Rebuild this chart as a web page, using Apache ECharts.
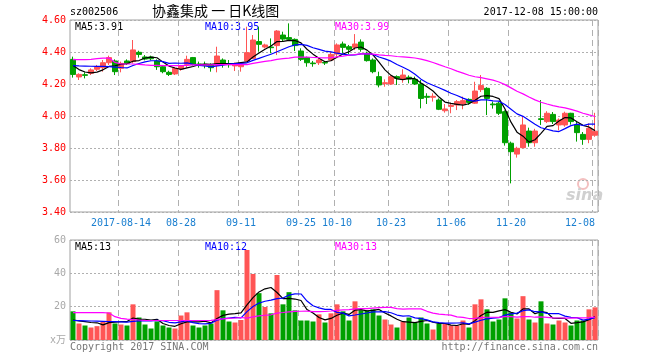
<!DOCTYPE html>
<html><head><meta charset="utf-8">
<script src="https://cdn.jsdelivr.net/npm/echarts@6/dist/echarts.min.js"></script>
<style>html,body{margin:0;padding:0;background:#fff}#c{width:660px;height:360px}</style>
</head><body><div id="c"></div>
<script>
const dates = [
'2017-08-02','2017-08-03','2017-08-04','2017-08-07','2017-08-08','2017-08-09','2017-08-10','2017-08-11',
'2017-08-14','2017-08-15','2017-08-16','2017-08-17','2017-08-18','2017-08-21','2017-08-22','2017-08-23','2017-08-24','2017-08-25',
'2017-08-28','2017-08-29','2017-08-30','2017-08-31','2017-09-01','2017-09-04','2017-09-05','2017-09-06','2017-09-07','2017-09-08',
'2017-09-11','2017-09-12','2017-09-13','2017-09-14','2017-09-15','2017-09-18','2017-09-19','2017-09-20','2017-09-21','2017-09-22',
'2017-09-25','2017-09-26','2017-09-27','2017-09-28','2017-09-29','2017-10-09',
'2017-10-10','2017-10-11','2017-10-12','2017-10-13','2017-10-16','2017-10-17','2017-10-18','2017-10-19','2017-10-20',
'2017-10-23','2017-10-24','2017-10-25','2017-10-26','2017-10-27','2017-10-30','2017-10-31','2017-11-01','2017-11-02','2017-11-03',
'2017-11-06','2017-11-07','2017-11-08','2017-11-09','2017-11-10','2017-11-13','2017-11-14','2017-11-15','2017-11-16','2017-11-17',
'2017-11-20','2017-11-21','2017-11-22','2017-11-23','2017-11-24','2017-11-27','2017-11-28','2017-11-29','2017-11-30','2017-12-01',
'2017-12-04','2017-12-05','2017-12-06','2017-12-07','2017-12-08'];
const labelDates = ['2017-08-14','2017-08-28','2017-09-11','2017-09-25','2017-10-10','2017-10-23','2017-11-06','2017-11-20','2017-12-08'];

const open = [4.354,4.244,4.258,4.267,4.292,4.302,4.333,4.344,4.298,4.344,
4.340,4.398,4.369,4.369,4.344,4.308,4.273,4.263,4.294,4.323,
4.365,4.325,4.323,4.319,4.315,4.350,4.325,4.313,4.308,4.344,
4.360,4.465,4.431,4.431,4.440,4.506,4.490,4.479,4.406,4.365,
4.331,4.333,4.335,4.350,4.387,4.450,4.433,4.429,4.462,4.392,
4.350,4.246,4.202,4.200,4.246,4.229,4.242,4.229,4.200,4.123,
4.117,4.100,4.033,4.060,4.069,4.075,4.104,4.080,4.165,4.173,
4.075,4.080,4.027,3.830,3.762,3.802,3.906,3.833,3.983,3.965,
4.010,3.944,3.944,4.017,3.944,3.885,3.854,3.880];
const close = [4.260,4.260,4.254,4.288,4.308,4.333,4.365,4.277,4.329,4.329,
4.413,4.385,4.356,4.358,4.308,4.277,4.260,4.298,4.313,4.354,
4.323,4.319,4.315,4.302,4.375,4.323,4.321,4.327,4.323,4.396,
4.475,4.448,4.444,4.427,4.531,4.481,4.479,4.440,4.354,4.333,
4.327,4.350,4.331,4.385,4.444,4.429,4.417,4.450,4.417,4.346,
4.277,4.194,4.208,4.246,4.235,4.256,4.231,4.200,4.110,4.117,
4.123,4.042,4.044,4.067,4.090,4.096,4.085,4.156,4.190,4.110,
4.070,4.017,3.833,3.777,3.798,3.944,3.833,3.906,3.978,4.017,
3.965,3.975,4.017,3.965,3.896,3.854,3.923,3.905];
const high = [4.371,4.267,4.273,4.298,4.319,4.350,4.377,4.354,4.340,4.354,
4.475,4.408,4.381,4.377,4.354,4.319,4.283,4.304,4.319,4.377,
4.369,4.340,4.340,4.329,4.433,4.360,4.350,4.335,4.329,4.558,
4.506,4.558,4.452,4.485,4.537,4.527,4.579,4.485,4.423,4.371,
4.344,4.360,4.344,4.402,4.454,4.465,4.444,4.512,4.479,4.402,
4.360,4.277,4.229,4.254,4.254,4.292,4.254,4.246,4.225,4.142,
4.142,4.110,4.075,4.083,4.100,4.121,4.110,4.214,4.256,4.180,
4.090,4.090,4.035,3.840,3.808,4.000,3.927,3.920,4.100,4.030,
4.025,3.985,4.027,4.020,3.965,3.900,3.954,4.020];
const low = [4.240,4.225,4.235,4.256,4.281,4.277,4.319,4.256,4.273,4.319,
4.329,4.365,4.348,4.348,4.288,4.267,4.250,4.256,4.283,4.302,
4.315,4.302,4.298,4.277,4.273,4.302,4.302,4.281,4.277,4.340,
4.356,4.402,4.423,4.392,4.381,4.465,4.475,4.406,4.344,4.308,
4.308,4.319,4.319,4.344,4.370,4.392,4.387,4.412,4.402,4.340,
4.267,4.179,4.183,4.194,4.194,4.208,4.204,4.194,4.048,4.075,
4.090,4.037,4.021,4.017,4.037,4.042,4.070,4.075,4.150,4.006,
4.046,4.006,3.815,3.579,3.740,3.798,3.808,3.808,3.944,3.956,
3.950,3.910,3.933,3.946,3.840,3.820,3.830,3.870];
const volume = [17.2,9.9,8.7,7.5,8.3,10.9,16.6,9.9,9.3,8.7,
21.4,13.5,9.3,6.9,11.1,8.7,7.5,6.9,14.7,16.6,
8.7,7.5,8.7,9.9,29.9,17.8,11.1,10.5,12.0,54.0,
39.6,28.1,19.8,16.0,39.0,21.4,28.7,17.8,11.7,11.7,
11.1,15.4,10.5,16.0,21.4,17.2,11.7,23.2,17.8,17.6,
18.4,14.7,12.3,9.3,7.5,11.1,13.5,10.5,13.5,9.9,
6.3,9.9,9.9,8.7,8.7,11.7,7.5,21.4,24.4,18.4,
11.1,12.3,25.0,16.6,12.9,26.3,12.3,10.5,23.2,9.9,
9.3,11.7,10.5,8.7,11.7,11.7,18.4,19.6];

// moving-average values before a full window exists
const priceMA5Head = [4.315,4.29,4.275,4.27];
const priceMA10Head = [4.315,4.313,4.312,4.311,4.310,4.310,4.309,4.306,4.303];
const priceMA30Head = [4.352,4.352,4.352,4.354,4.358,4.362,4.362,4.335,4.325,4.325,
4.325,4.323,4.319,4.317,4.317,4.315,4.315,4.315,4.315,4.317,
4.319,4.319,4.319,4.319,4.321,4.321,4.321,4.321,4.323];
const volMA5Head = [12,11.5,11,10.5];
const volMA10Head = [11.7,11.6,11.5,11.4,11.3,11.2,11.1,11.0,10.9];
const volMA30Head = [16.4,16.4,16.4,16.4,16.4,16.4,16.2,14,13,12.5,
12.3,12,11.7,11.7,11.7,11.7,11.7,11.7,11.7,11.7,
11.7,11.7,11.7,11.8,12.2,12.7,13,13.2,13.5];

const priceLegend = ['MA5:3.91','MA10:3.95','MA30:3.99'];
const volLegend = ['MA5:13','MA10:12','MA30:13'];
const priceTicks = {min:3.4, max:4.6, step:0.2};
const volTicks = {min:0, max:60, step:20};

function ma(vals, n, head){
  return vals.map((v,i)=>{
    if (i < n-1) return head[i];
    let s=0; for(let k=i-n+1;k<=i;k++) s+=vals[k];
    return +(s/n).toFixed(4);
  });
}

const UP='#ff5555', DOWN='#00a000';
const MONO='"DejaVu Sans Mono", "Noto Sans CJK SC", monospace';
const labelSet = new Set(labelDates);
const isLabel = (idx, val) => labelSet.has(val);

const kdata = dates.map((d,i)=>[open[i],close[i],low[i],high[i]]);
const vdata = volume.map((v,i)=>({value:v, itemStyle:{color: close[i]>=open[i]?UP:DOWN}}));

const gridLineH = {show:true, lineStyle:{color:'#b0b0b0', type:[2,2], width:1}};
const gridLineV = {show:true, interval:isLabel, lineStyle:{color:'#b0b0b0', type:[6,4], width:1}};

const chart = echarts.init(document.getElementById('c'), null, {renderer:'canvas'});
chart.setOption({
  animation:false,
  backgroundColor:'#fff',
  grid:[
    {left:70, top:20, width:528, height:192, show:true, borderColor:'#a0a0a0', borderWidth:1, backgroundColor:'transparent'},
    {left:70, top:240, width:528, height:100, show:true, borderColor:'#a0a0a0', borderWidth:1, backgroundColor:'transparent'}
  ],
  xAxis:[
    {type:'category', gridIndex:0, data:dates, boundaryGap:true,
     axisLine:{show:false}, axisTick:{show:false},
     axisLabel:{interval:isLabel, color:'#1a7fd0', fontFamily:MONO, fontSize:10, margin:6,
       alignMaxLabel:'right',
       formatter:v=> v==='2017-08-14'? v : v.slice(5)},
     splitLine:gridLineV},
    {type:'category', gridIndex:1, data:dates, boundaryGap:true,
     axisLine:{show:false}, axisTick:{show:false}, axisLabel:{show:false},
     splitLine:gridLineV}
  ],
  yAxis:[
    {type:'value', gridIndex:0, min:priceTicks.min, max:priceTicks.max, interval:priceTicks.step,
     axisLine:{show:false}, axisTick:{show:false},
     axisLabel:{color:'#ff0000', fontFamily:MONO, fontSize:10, margin:4, formatter:v=>v.toFixed(2)},
     splitLine:gridLineH},
    {type:'value', gridIndex:1, min:volTicks.min, max:volTicks.max, interval:volTicks.step,
     axisLine:{show:false}, axisTick:{show:false},
     axisLabel:{color:'#a8a8a8', fontFamily:MONO, fontSize:10, margin:4, formatter:v=> v===0?'x万':String(v)},
     splitLine:gridLineH}
  ],
  series:[
    {type:'candlestick', xAxisIndex:0, yAxisIndex:0, data:kdata, barWidth:5,
     itemStyle:{color:UP, color0:DOWN, borderColor:UP, borderColor0:DOWN, borderWidth:1}},
    {type:'line', xAxisIndex:0, yAxisIndex:0, data:ma(close,5,priceMA5Head), symbol:'none', lineStyle:{color:'#000', width:1.2}},
    {type:'line', xAxisIndex:0, yAxisIndex:0, data:ma(close,10,priceMA10Head), symbol:'none', lineStyle:{color:'#0000ff', width:1.2}},
    {type:'line', xAxisIndex:0, yAxisIndex:0, data:ma(close,30,priceMA30Head), symbol:'none', lineStyle:{color:'#ff00ff', width:1.2}},
    {type:'bar', xAxisIndex:1, yAxisIndex:1, data:vdata, barWidth:5},
    {type:'line', xAxisIndex:1, yAxisIndex:1, data:ma(volume,5,volMA5Head), symbol:'none', lineStyle:{color:'#000', width:1.2}},
    {type:'line', xAxisIndex:1, yAxisIndex:1, data:ma(volume,10,volMA10Head), symbol:'none', lineStyle:{color:'#0000ff', width:1.2}},
    {type:'line', xAxisIndex:1, yAxisIndex:1, data:ma(volume,30,volMA30Head), symbol:'none', lineStyle:{color:'#ff00ff', width:1.2}}
  ],
  graphic:[
    {type:'text', left:70, top:7, style:{text:'sz002506', fill:'#000', font:'10px '+MONO}},
    {type:'text', left:152, top:4, style:{text:'协鑫集成 一 日K线图', fill:'#000', font:'14px "Noto Sans CJK SC"'}},
    {type:'text', right:62, top:7, style:{text:'2017-12-08 15:00:00', fill:'#000', font:'10px '+MONO}},
    {type:'text', left:75, top:22, style:{text:priceLegend[0], fill:'#000', font:'10px '+MONO}},
    {type:'text', left:205, top:22, style:{text:priceLegend[1], fill:'#0000ff', font:'10px '+MONO}},
    {type:'text', left:335, top:22, style:{text:priceLegend[2], fill:'#ff00ff', font:'10px '+MONO}},
    {type:'text', left:75, top:242, style:{text:volLegend[0], fill:'#000', font:'10px '+MONO}},
    {type:'text', left:205, top:242, style:{text:volLegend[1], fill:'#0000ff', font:'10px '+MONO}},
    {type:'text', left:335, top:242, style:{text:volLegend[2], fill:'#ff00ff', font:'10px '+MONO}},
    {type:'text', left:70, top:342, style:{text:'Copyright 2017 SINA.COM', fill:'#777', font:'10px '+MONO}},
    {type:'text', right:62, top:342, style:{text:'http://finance.sina.com.cn', fill:'#777', font:'10px '+MONO}},
    {type:'circle', shape:{cx:583, cy:184, r:5}, style:{fill:'none', stroke:'#f3c0c0', lineWidth:2}},
    {type:'text', left:566, top:188, style:{text:'sina', fill:'#d0d0d0', font:'italic bold 16px "DejaVu Sans"'}}
  ]
});
</script></body></html>
